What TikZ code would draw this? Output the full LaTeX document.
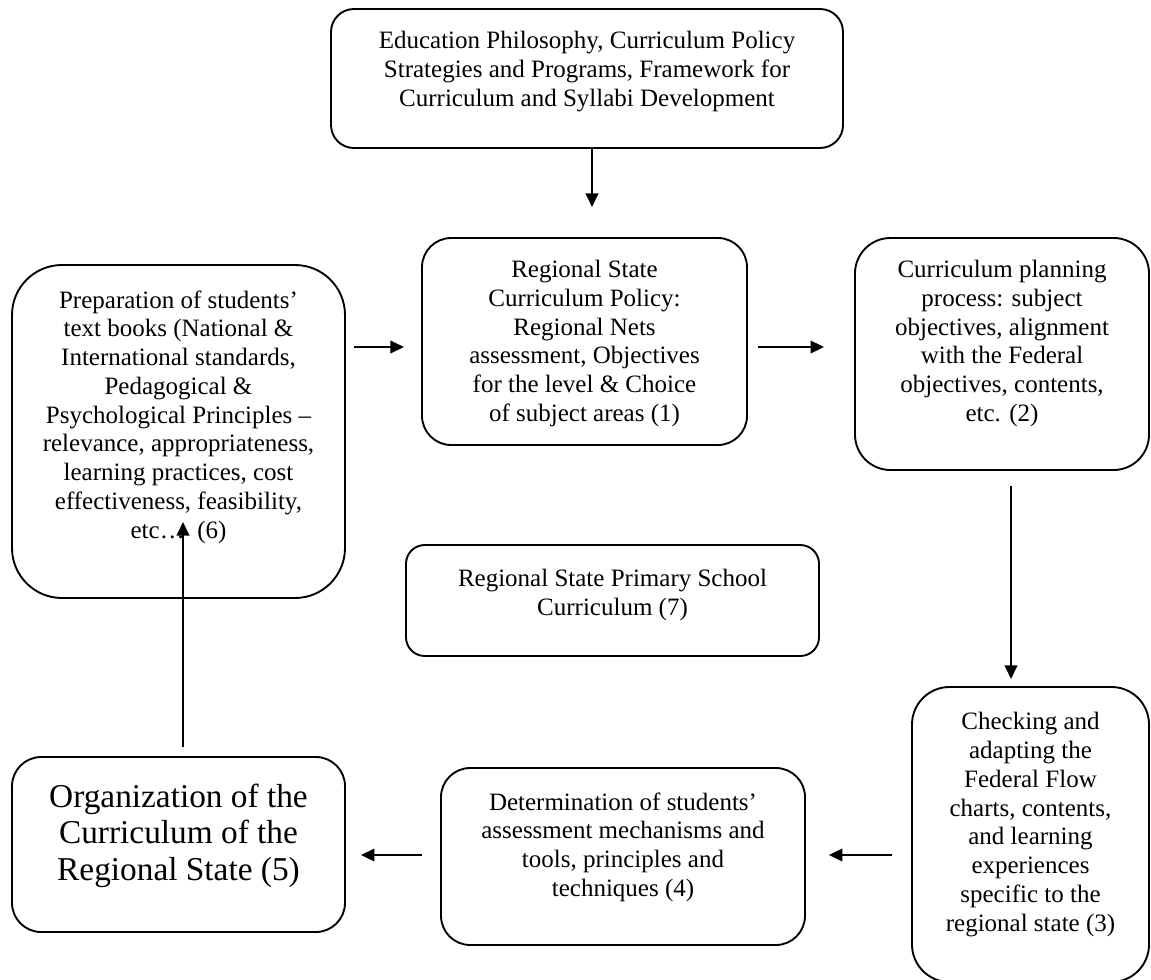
\documentclass[tikz,border=0pt]{standalone}
\usepackage{fontspec}
\setmainfont{Liberation Serif}
\usepackage{tikz}
\usetikzlibrary{positioning,arrows.meta,fit}

\begin{document}
\begin{tikzpicture}[
  x=0.48pt, y=-0.48pt,
  stage/.style={draw, line width=0.9pt, rounded corners=#1, inner sep=0pt},
  txt/.style={align=center, inner sep=0pt,
    font=\fontsize{12pt}{13.8pt}\selectfont},
  bigtxt/.style={txt, font=\fontsize{16pt}{17.6pt}\selectfont},
  flow/.style={-{Triangle[length=6.5pt, width=6pt]}, line width=1pt},
]
  \useasboundingbox (0,0) rectangle (1151,979);

  \node[stage=11pt, fit={(331,9) (843,148)}] (policy) {};
  \node[stage=14pt, fit={(422,238) (747,445)}] (regional) {};
  \node[stage=17pt, fit={(855,238) (1149,470)}] (planning) {};
  \node[stage=24pt, fit={(12,265) (345,598)}] (prep) {};
  \node[stage=9pt, fit={(406,545) (819,656)}] (primary) {};
  \node[stage=18pt, fit={(912,687) (1149,982)}] (checking) {};
  \node[stage=14pt, fit={(441,768) (805,945)}] (assess) {};
  \node[stage=14pt, fit={(12,757) (345,932)}] (organize) {};

  \node[txt, below=11pt] (policy-t) at (policy.north)
    {Education Philosophy, Curriculum Policy\\
     Strategies and Programs, Framework for\\
     Curriculum and Syllabi Development};
  \node[txt, below=11pt] (regional-t) at (regional.north)
    {Regional State\\ Curriculum Policy:\\ Regional Nets\\
     assessment, Objectives\\ for the level \& Choice\\
     of subject areas (1)};
  \node[txt, below=11pt] (planning-t) at (planning.north)
    {Curriculum planning\\ process: subject\\ objectives, alignment\\
     with the Federal\\ objectives, contents,\\ etc. (2)};
  \node[txt, below=12.5pt] (prep-t) at (prep.north)
    {Preparation of students’\\ text books (National \&\\
     International standards,\\ Pedagogical \&\\
     Psychological Principles –\\ relevance, appropriateness,\\
     learning practices, cost\\ effectiveness, feasibility,\\
     etc…\ \ (6)};
  \node[txt, below=12pt] (primary-t) at (primary.north)
    {Regional State Primary School\\ Curriculum (7)};
  \node[txt, below=12.5pt] (checking-t) at (checking.north)
    {Checking and\\ adapting the\\ Federal Flow\\ charts, contents,\\
     and learning\\ experiences\\ specific to the\\ regional state (3)};
  \node[txt, below=12pt] (assess-t) at (assess.north)
    {Determination of students’\\ assessment mechanisms and\\
     tools, principles and\\ techniques (4)};
  \node[bigtxt, below=13pt] (organize-t) at (organize.north)
    {Organization of the\\ Curriculum of the\\ Regional State (5)};

  \coordinate (upper) at (0,347);
  \coordinate (lower) at (0,855);
  \coordinate (down) at (592,207);
  \coordinate (side) at (1011,0);
  \coordinate (etc) at (183,522);

  \draw[flow] (policy.south -| down) -- (down);
  \draw[flow, shorten <=3.8pt, shorten >=8.2pt]
    (prep.east |- upper) -- (regional.west |- upper);
  \draw[flow, shorten <=4.8pt, shorten >=14.4pt]
    (regional.east |- upper) -- (planning.west |- upper);
  \draw[flow, shorten <=7.2pt, shorten >=3.4pt]
    (planning.south -| side) -- (checking.north -| side);
  \draw[flow, shorten <=9pt, shorten >=11pt]
    (checking.west |- lower) -- (assess.east |- lower);
  \draw[flow, shorten <=8.6pt, shorten >=7.2pt]
    (assess.west |- lower) -- (organize.east |- lower);
  \draw[flow, shorten <=4.3pt] (organize.north -| etc) -- (etc);
\end{tikzpicture}
\end{document}
